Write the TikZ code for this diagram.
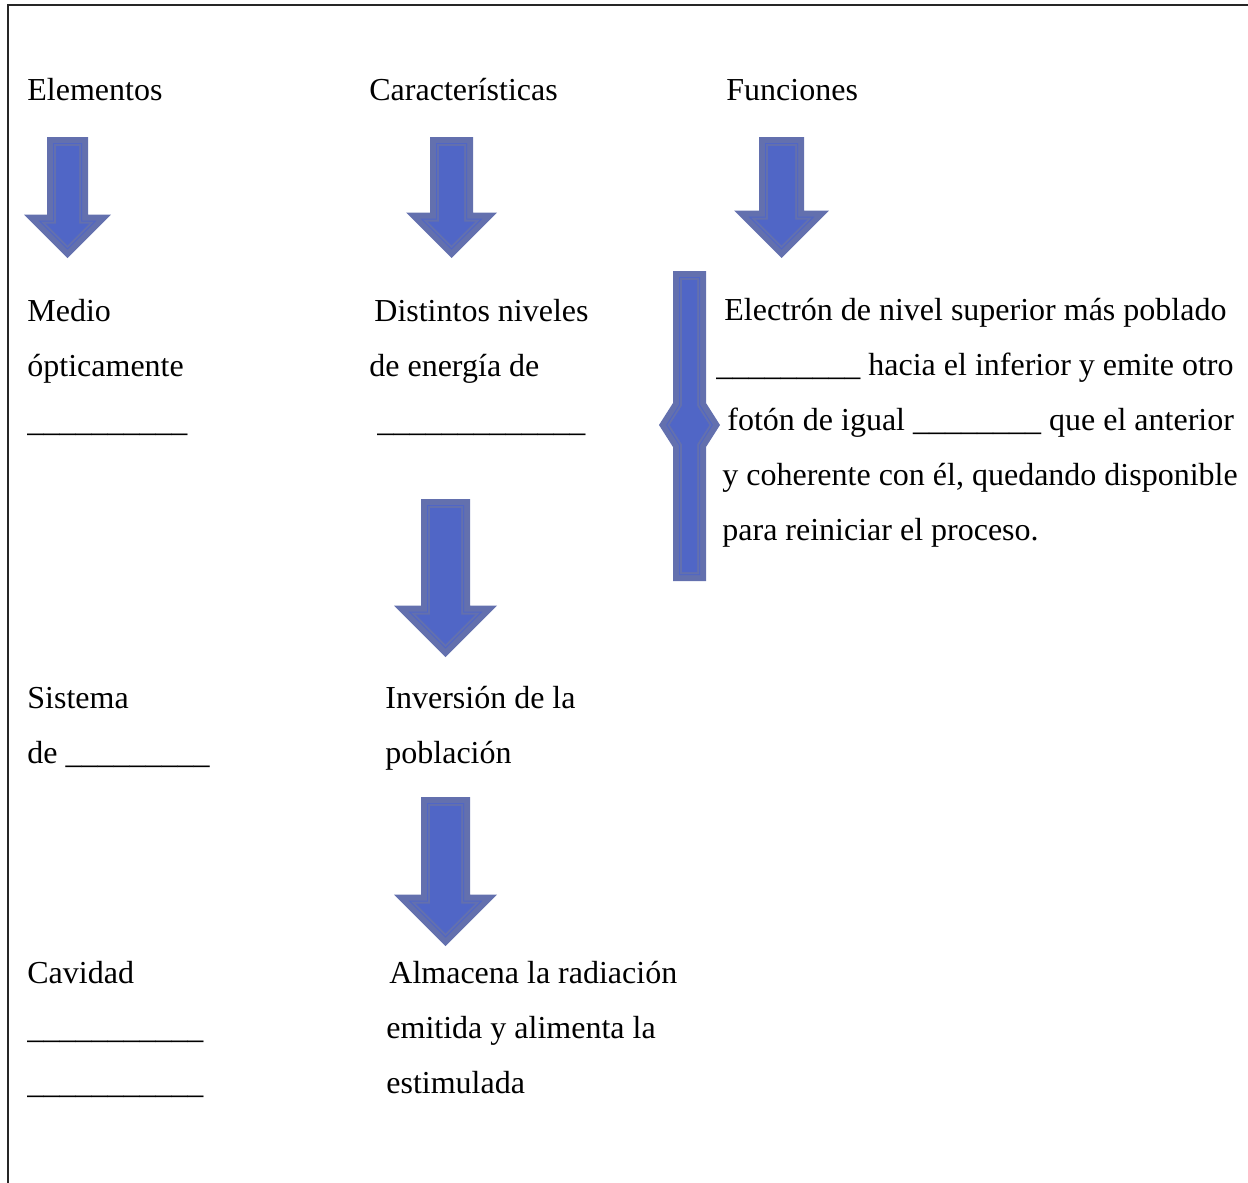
\documentclass[tikz,border=0pt]{standalone}
\usepackage{fontspec}
\setmainfont{Liberation Serif}

\definecolor{arrowout}{RGB}{99,112,174}
\definecolor{arrowin}{RGB}{80,102,198}

% down block arrow: centre x, top, shaft half, head half, length, inset
\newcommand{\downshape}[6]{(#1-#3+#6,#2+#6) -- (#1+#3-#6,#2+#6)
  -- (#1+#3-#6,#2+#5-#4+#6) -- (#1+#4-2.414*#6,#2+#5-#4+#6)
  -- (#1,#2+#5-1.414*#6) -- (#1-#4+2.414*#6,#2+#5-#4+#6)
  -- (#1-#3+#6,#2+#5-#4+#6) -- cycle}
% vertical bar with side points: inset
\newcommand{\barshape}[1]{(673+#1,271+#1) -- (706-#1,271+#1)
  -- (706-#1,403+0.3*#1) -- (720-1.19*#1,425) -- (706-#1,447-0.3*#1)
  -- (706-#1,581-#1) -- (673+#1,581-#1) -- (673+#1,447-0.3*#1)
  -- (659+1.19*#1,425) -- (673+#1,403+0.3*#1) -- cycle}
\newcommand{\blanks}[1]{\foreach \k in {1,...,#1}{\_}}

\begin{document}
\begin{tikzpicture}[
            x=0.5pt, y=-0.5pt,
            txt/.style={anchor=base west, inner sep=0pt, align=left, font=\fontsize{16}{27.5}\selectfont},
            frame/.style={draw=black!85, line width=1pt},
        ]
        \useasboundingbox (0,0) rectangle (1248,1183);

        % Frame
        \draw[frame] (8,1183) -- (8,5) -- (1248,5);

        % Block arrows
        \foreach \cx/\ty/\s/\h/\len in {67.5/137/20.5/43.5/121, 451.5/137/21.5/45.5/121,
            781.5/137/22.5/47.5/121, 445.5/499/24.5/51.5/158, 445.5/797/24.5/51.5/149}
        \foreach \d/\col in {0/arrowout, 6/arrowin, 7/arrowout, 9/arrowin}
        \fill[fill=\col] \downshape{\cx}{\ty}{\s}{\h}{\len}{\d};

        % Bar beside the functions
        \foreach \d/\col in {0/arrowout, 6/arrowin, 7/arrowout, 9/arrowin}
        \fill[fill=\col] \barshape{\d};

        % Headings
        \node[txt] (elem) at (27,100) {Elementos};
        \node[txt] (carac) at (369,100) {Características};
        \node[txt] (func) at (726,100) {Funciones};

        % Elements (y = baseline of last line)
        \node[txt] (medio) at (27,431) {Medio\\ópticamente\\\blanks{10}};
        \node[txt] (sist) at (27,763) {Sistema\\de \blanks{9}};
        \node[txt] (cav) at (27,1093) {Cavidad\\\blanks{11}\\\blanks{11}};

        % Characteristics
        \node[txt] (niv) at (369,431) {\hspace*{2.5pt}Distintos niveles\\de energía de\\\hspace*{4pt}\blanks{13}};
        \node[txt] (inv) at (385,763) {Inversión de la\\población};
        \node[txt] (alm) at (386,1093) {\hspace*{1.5pt}Almacena la radiación\\emitida y alimenta la\\estimulada};

        % Functions
        \node[txt] (elec) at (722,540) {\hspace*{1pt}Electrón de nivel superior más poblado\\
            \hspace*{-3pt}\blanks{9} hacia el inferior y emite otro\\
            \hspace*{2.5pt}fotón de igual \blanks{8} que el anterior\\
            y coherente con él, quedando disponible\\
            para reiniciar el proceso.};

    \end{tikzpicture}
\end{document}
